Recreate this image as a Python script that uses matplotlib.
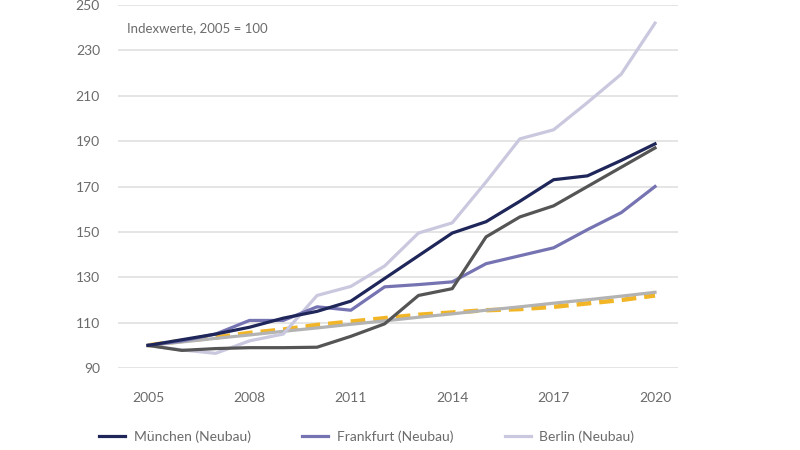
import numpy as np
import matplotlib.pyplot as plt

# Daten (Indexwerte, 2005 = 100)
jahre = list(range(2005, 2021))
muenchen = [100, 102.5, 105, 108, 112, 115, 119.5, 129.5, 139.5, 149.5, 154.5, 163.5, 173, 174.7, 181.5, 188.8]
frankfurt = [100, 102, 105, 111, 111, 117, 115.5, 125.8, 126.8, 128, 136, 139.5, 143, 151, 158.5, 170]
berlin = [100, 98, 96.5, 102, 105, 122, 126, 135, 149.5, 154, 172, 191, 195, 207, 219.5, 242]
grau_dunkel = [100, 97.8, 98.6, 99, 99, 99.2, 104, 109.5, 122, 125, 147.8, 156.6, 161.5, 170, 178.5, 187]
grau_hell = [100, 101.5, 103.1, 104.6, 106.2, 107.7, 109.3, 110.8, 112.4, 113.9, 115.5, 117.0, 118.6, 120.1, 121.7, 123.4]
gelb = [100, 102, 103.5, 105.5, 107, 109, 110.5, 112, 113.5, 114.5, 115.5, 116, 117, 118.5, 120, 122]

x_ticks = [2005, 2008, 2011, 2014, 2017, 2020]
y_ticks = [90, 110, 130, 150, 170, 190, 210, 230, 250]

plt.rcParams['font.family'] = ['Lato', 'DejaVu Sans']
textfarbe = '#6b6b6b'

fig = plt.figure(figsize=(8, 4.5), dpi=100)
ax = fig.add_axes([0.1475, 0.182, 0.70, 0.807])

lw = 2.3
ax.plot(jahre, gelb, color='#f2b525', lw=3.2, ls=(0, (3.3, 1.8)), zorder=3)
ax.plot(jahre, grau_hell, color='#b3b3b3', lw=lw, zorder=4)
ax.plot(jahre, berlin, color='#c9c8de', lw=lw, zorder=5, label='Berlin (Neubau)')
ax.plot(jahre, frankfurt, color='#7573b2', lw=lw, zorder=6, label='Frankfurt (Neubau)')
ax.plot(jahre, grau_dunkel, color='#555555', lw=lw, zorder=7)
ax.plot(jahre, muenchen, color='#1f2659', lw=lw, zorder=8, label='München (Neubau)')

ax.set_xlim(2004.11, 2020.68)
ax.set_ylim(90, 250)
ax.set_xticks(x_ticks)
ax.set_yticks(y_ticks)
ax.grid(axis='y', color='#e3e3e3', lw=1.3)
ax.set_axisbelow(True)
for s in ax.spines.values():
    s.set_visible(False)
ax.tick_params(axis='both', length=0, labelsize=10, labelcolor=textfarbe)
ax.tick_params(axis='y', pad=13)
ax.tick_params(axis='x', pad=17)

ax.text(0.016, 0.935, 'Indexwerte, 2005 = 100', transform=ax.transAxes,
        fontsize=9.5, color=textfarbe, va='center')

h, l = ax.get_legend_handles_labels()
reihenfolge = [2, 1, 0]
fig.legend([h[i] for i in reihenfolge], [l[i] for i in reihenfolge],
           loc='center left', bbox_to_anchor=(0.108, 0.03), ncol=3,
           frameon=False, fontsize=10, labelcolor=textfarbe,
           handlelength=1.9, handletextpad=0.6, columnspacing=3.7)

plt.savefig('out.png', dpi=100)
